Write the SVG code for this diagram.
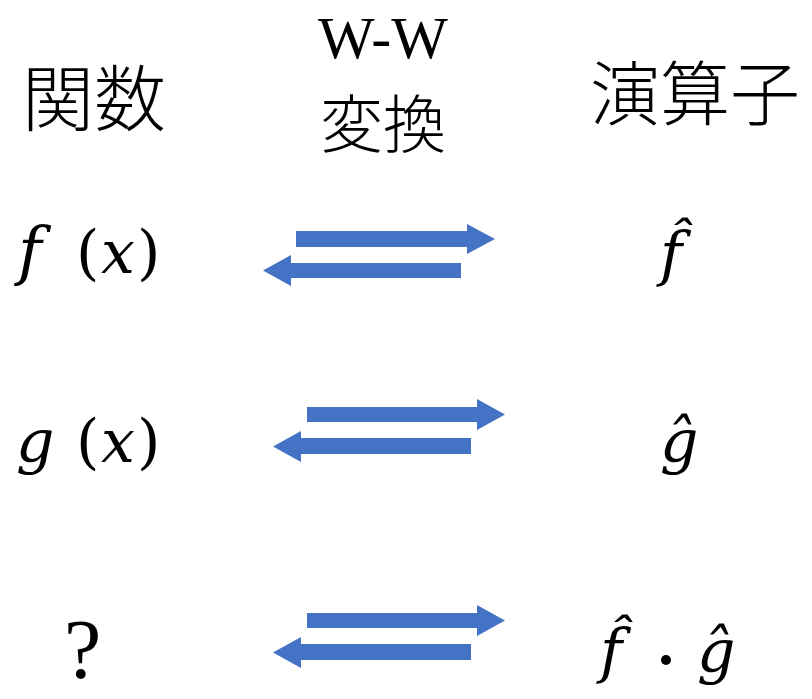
<svg xmlns="http://www.w3.org/2000/svg" width="812" height="699" viewBox="0 0 812 699">
  <style>
    .cjk { font-family: "Noto Sans CJK JP", "Noto Sans CJK SC", sans-serif; font-weight: 300; fill: #000; }
    .ser { font-family: "Liberation Serif", serif; fill: #000; }
    .math { font-family: "DejaVu Serif", serif; font-style: italic; fill: #000; font-size: 60px; }
    .up { font-style: normal; }
    .arrow { fill: #4472C4; }
  </style>
  <rect width="812" height="699" fill="#fff"/>

  <g id="header-functions">
    <text class="cjk" x="22" y="125" font-size="72">関数</text>
  </g>
  <g id="header-ww">
    <text class="ser" x="383" y="58" font-size="60" text-anchor="middle">W-W</text>
    <text class="cjk" x="383" y="147" font-size="63" text-anchor="middle">変換</text>
  </g>
  <g id="header-operators">
    <text class="cjk" x="590" y="120" font-size="70">演算子</text>
  </g>

  <g id="fx">
    <text class="math" x="18" y="273"><tspan font-size="64">f</tspan><tspan class="up" x="76">(</tspan><tspan x="101">x</tspan><tspan class="up" x="137">)</tspan></text>
  </g>
  <g id="fhat">
    <text class="math" x="660" y="275">f̂</text>
  </g>

  <g id="gx">
    <text class="math" x="16" y="462">g<tspan class="up" x="76">(</tspan><tspan x="101">x</tspan><tspan class="up" x="137">)</tspan></text>
  </g>
  <g id="ghat">
    <text class="math" x="660" y="462">ĝ</text>
  </g>

  <g id="unknown">
    <text class="ser" x="64" y="678" font-size="84">?</text>
  </g>
  <g id="fhat-dot-ghat">
    <text class="math" x="600" y="672">f̂</text>
    <circle cx="666" cy="660" r="5" fill="#000"/>
    <text class="math" x="697" y="672">ĝ</text>
  </g>

  <g id="connectors">
    <polygon class="arrow" points="296,231 467,231 467,224 495,239 467,254 467,247 296,247"/>
    <polygon class="arrow" points="263,270.5 291,255 291,263 461,263 461,278 291,278 291,286"/>
    <polygon class="arrow" points="307,407 477,407 477,399 505,414.5 477,430 477,422 307,422"/>
    <polygon class="arrow" points="273,446.5 301,431 301,438 471,438 471,454 301,454 301,462"/>
    <polygon class="arrow" points="307,613 477,613 477,605 505,620.5 477,636 477,628 307,628"/>
    <polygon class="arrow" points="273,652.5 301,637 301,644 471,644 471,660 301,660 301,668"/>
  </g>
</svg>
